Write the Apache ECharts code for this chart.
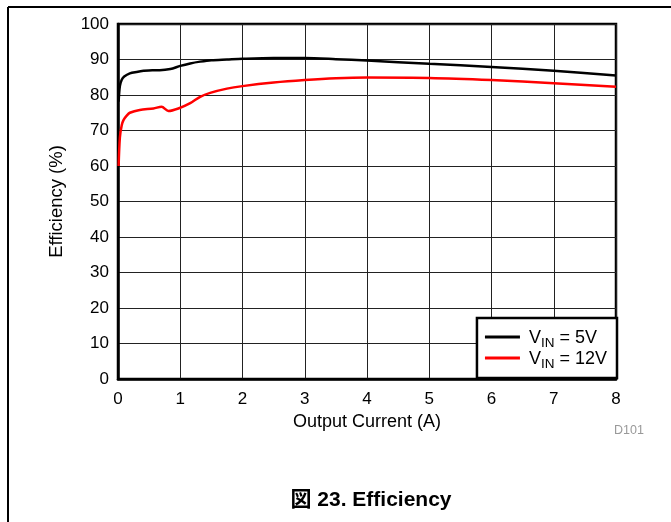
<!DOCTYPE html>
<html><head><meta charset="utf-8">
<script src="https://cdn.jsdelivr.net/npm/echarts@6/dist/echarts.min.js"></script>
<style>html,body{margin:0;padding:0;background:#fff}#c{width:671px;height:522px}</style>
</head><body><div id="c"></div>
<script>
const xTicks = [0,1,2,3,4,5,6,7,8];
const yTicks = [0,10,20,30,40,50,60,70,80,90,100];
const current5 = [0.01,0.03,0.06,0.1,0.19,0.3,0.41,0.55,0.67,0.84,1.0,1.16,1.32,1.5,1.75,2,2.5,3,3.5,4,5,6,7,8];
const eff5 = [78.1,82.5,84.3,85.2,86.1,86.5,86.8,87.0,87.0,87.3,88.2,88.9,89.4,89.8,90.0,90.2,90.4,90.4,90.1,89.7,88.8,87.9,86.8,85.5];
const current12 = [0.01,0.03,0.06,0.09,0.14,0.19,0.35,0.57,0.70,0.81,0.97,1.16,1.32,1.48,1.75,2,2.5,3,3.5,4,5,6,7,8];
const eff12 = [60,68,71.5,73,74.2,75.0,75.8,76.2,76.7,75.5,76.2,77.7,79.5,80.6,81.8,82.5,83.5,84.2,84.7,84.9,84.8,84.2,83.3,82.3];
const seriesNames = ['VIN = 5V','VIN = 12V'];

const FONT = 'Liberation Sans, Arial, Noto Sans CJK JP, sans-serif';
const chart = echarts.init(document.getElementById('c'), null, {renderer:'canvas'});
const zip = (a,b)=>a.map((v,i)=>[v,b[i]]);
chart.setOption({
  animation:false,
  backgroundColor:'#fff',
  grid:{left:118,right:55,top:24,bottom:143,show:true,borderColor:'#000',borderWidth:2.5,backgroundColor:'transparent'},
  xAxis:{type:'value',min:xTicks[0],max:xTicks[xTicks.length-1],interval:1,
    name:'Output Current (A)',nameLocation:'middle',nameGap:32,
    nameTextStyle:{fontFamily:FONT,fontSize:18,color:'#000'},
    axisLine:{show:true,lineStyle:{color:'#000',width:2.5}},
    axisTick:{show:false},
    axisLabel:{fontFamily:FONT,fontSize:17,color:'#000',margin:12},
    splitLine:{show:true,lineStyle:{color:'#222',width:1}}},
  yAxis:{type:'value',min:yTicks[0],max:yTicks[yTicks.length-1],interval:10,
    name:'Efficiency (%)',nameLocation:'middle',nameGap:52,
    nameTextStyle:{fontFamily:FONT,fontSize:18.5,color:'#000'},
    axisLine:{show:true,lineStyle:{color:'#000',width:2.5}},
    axisTick:{show:false},
    axisLabel:{fontFamily:FONT,fontSize:17,color:'#000',margin:9},
    splitLine:{show:true,lineStyle:{color:'#222',width:1}}},
  legend:{right:54,bottom:144,orient:'vertical',itemWidth:35,itemHeight:3,itemGap:0,
    backgroundColor:'#fff',borderColor:'#000',borderWidth:2.5,borderRadius:0,
    padding:[11,10,7,8],icon:'rect',
    data:seriesNames,
    formatter:function(n){const v=n.split(' = ');return '{a|V}{s|IN}{a| = '+v[1]+'}';},
    textStyle:{fontFamily:FONT,color:'#000',padding:[0,0,0,4],
      rich:{a:{fontFamily:FONT,fontSize:18,color:'#000',lineHeight:20,verticalAlign:'bottom'},
            s:{fontFamily:FONT,fontSize:13.5,color:'#000',lineHeight:20,verticalAlign:'bottom',padding:[0,0,-3,0]}}}},
  series:[
    {name:seriesNames[0],type:'line',data:zip(current5,eff5),showSymbol:false,smooth:0.3,
      lineStyle:{color:'#000',width:2.5},itemStyle:{color:'#000'}},
    {name:seriesNames[1],type:'line',data:zip(current12,eff12),showSymbol:false,smooth:0.3,
      lineStyle:{color:'#ff0000',width:2.5},itemStyle:{color:'#ff0000'}}
  ],
  graphic:[
    {type:'line',shape:{x1:8,y1:7,x2:671,y2:7},style:{stroke:'#000',lineWidth:2}},
    {type:'line',shape:{x1:8,y1:7,x2:8,y2:522},style:{stroke:'#000',lineWidth:2}},
    {type:'text',left:614,top:424,style:{text:'D101',fontFamily:FONT,fontSize:12.5,fill:'#999'}},
    {type:'text',x:371,y:500,style:{text:'図 23. Efficiency',fontFamily:FONT,fontSize:21,fontWeight:'bold',fill:'#000',align:'center',verticalAlign:'middle'}}
  ]
});
</script></body></html>
